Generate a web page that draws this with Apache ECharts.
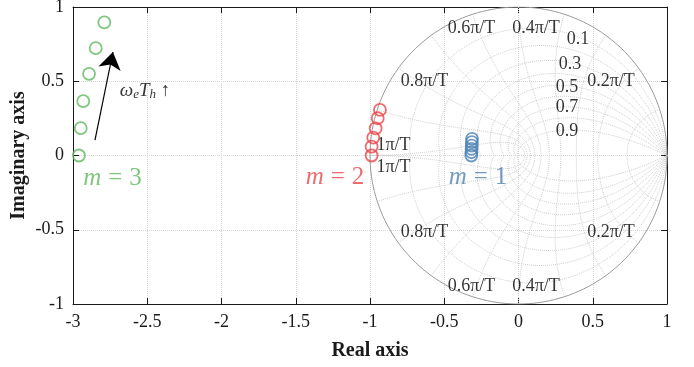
<!DOCTYPE html>
<html>
<head>
<meta charset="utf-8">
<script src="https://cdn.jsdelivr.net/npm/echarts@6/dist/echarts.min.js"></script>
<style>html,body{margin:0;padding:0;background:#fff}#main{width:694px;height:367px}</style>
</head>
<body>
<div id="main"></div>
<script>
// poles for each m (real part / imaginary part)
var m3Re = [-2.960, -2.948, -2.931, -2.892, -2.847, -2.789];
var m3Im = [0, 0.184, 0.366, 0.550, 0.723, 0.896];
var m2Re = [-0.989, -0.989, -0.978, -0.962, -0.948, -0.933];
var m2Im = [0, 0.060, 0.120, 0.183, 0.251, 0.307];
var m1Re = [-0.318, -0.317, -0.316, -0.315, -0.314, -0.313];
var m1Im = [0, 0.022, 0.044, 0.066, 0.090, 0.112];

// zgrid: damping ratios and natural frequencies (x pi/T)
var zetaList = [0.1, 0.2, 0.3, 0.4, 0.5, 0.6, 0.7, 0.8, 0.9];
var wnList = [0.1, 0.2, 0.3, 0.4, 0.5, 0.6, 0.7, 0.8, 0.9, 1];

// grid annotation texts and where they sit
var gridNotes = [
    ['0.6π/T', -0.316, 0.859], ['0.4π/T', 0.118, 0.859],
    ['0.8π/T', -0.633, 0.502], ['0.2π/T', 0.623, 0.502],
    ['1π/T', -0.842, 0.071], ['1π/T', -0.842, -0.077],
    ['0.8π/T', -0.633, -0.515], ['0.2π/T', 0.623, -0.515],
    ['0.6π/T', -0.316, -0.879], ['0.4π/T', 0.118, -0.879],
    ['0.1', 0.401, 0.785], ['0.3', 0.347, 0.616], ['0.5', 0.327, 0.461],
    ['0.7', 0.327, 0.327], ['0.9', 0.327, 0.165]
];

var serif = 'Liberation Serif';
var ink = '#1a1a1a';
var green = '#5fb95f', red = '#e8464a', blue = '#4d82b3';

function pairs(re, im) {
    var out = [];
    for (var i = 0; i < re.length; i++) out.push([re[i], im[i]]);
    return out;
}

function curve(pts) {
    return {
        type: 'line', data: pts, showSymbol: false, silent: true,
        lineStyle: { color: '#cdcdcd', width: 1, type: 'dotted' }, z: 1
    };
}

var series = [];

// damping lines
zetaList.forEach(function (z) {
    var k = z / Math.sqrt(1 - z * z);
    var up = [], dn = [];
    for (var j = 0; j <= 60; j++) {
        var th = Math.PI * j / 60;
        var r = Math.exp(-k * th);
        up.push([r * Math.cos(th), r * Math.sin(th)]);
        dn.push([r * Math.cos(th), -r * Math.sin(th)]);
    }
    series.push(curve(up), curve(dn));
});

// natural frequency lines
wnList.forEach(function (w) {
    var up = [], dn = [];
    for (var j = 0; j <= 40; j++) {
        var th = Math.PI / 2 + Math.PI / 2 * j / 40;
        var a = w * Math.PI * Math.cos(th), b = w * Math.PI * Math.sin(th);
        var r = Math.exp(a);
        up.push([r * Math.cos(b), r * Math.sin(b)]);
        dn.push([r * Math.cos(b), -r * Math.sin(b)]);
    }
    series.push(curve(up), curve(dn));
});

// unit circle
var circ = [];
for (var j = 0; j <= 180; j++) {
    circ.push([Math.cos(2 * Math.PI * j / 180), Math.sin(2 * Math.PI * j / 180)]);
}
series.push({
    type: 'line', data: circ, showSymbol: false, silent: true,
    lineStyle: { color: '#9a9a9a', width: 1 }, z: 2
});

// grid labels
series.push({
    type: 'scatter', symbolSize: 0, silent: true, z: 5,
    data: gridNotes.map(function (n) { return { name: n[0], value: [n[1], n[2]] }; }),
    label: {
        show: true, position: 'inside', formatter: '{b}',
        fontFamily: serif, fontSize: 18, color: '#000'
    }
});

function poles(pts, col) {
    return {
        type: 'scatter', data: pts, symbol: 'circle', symbolSize: 12, z: 6,
        itemStyle: { color: 'rgba(0,0,0,0)', borderColor: col, borderWidth: 1.8 }
    };
}
series.push(poles(pairs(m3Re, m3Im), green));
series.push(poles(pairs(m2Re, m2Im), red));
series.push(poles(pairs(m1Re, m1Im), blue));

// m labels
function mLabel(txt, x, y, col) {
    return {
        type: 'scatter', symbolSize: 0, silent: true, z: 7,
        data: [{ value: [x, y] }],
        label: {
            show: true, position: 'inside',
            formatter: '{i|m}{e|=}{n|' + txt + '}',
            rich: {
                i: { fontFamily: serif, fontStyle: 'italic', fontSize: 25, color: col },
                e: { fontFamily: serif, fontSize: 25, color: col, padding: [0, 7] },
                n: { fontFamily: serif, fontSize: 25, color: col }
            }
        }
    };
}
series.push(mLabel('3', -2.734, -0.152, green));
series.push(mLabel('2', -1.236, -0.145, red));
series.push(mLabel('1', -0.273, -0.145, blue));

// arrow + omega label
series.push({
    type: 'lines', coordinateSystem: 'cartesian2d', silent: true, z: 7,
    symbol: ['none', 'arrow'], symbolSize: 17,
    lineStyle: { color: '#000', width: 1.2, opacity: 1 },
    data: [{ coords: [[-2.852, 0.104], [-2.731, 0.697]] }]
});
series.push({
    type: 'scatter', symbolSize: 0, silent: true, z: 7,
    data: [{ value: [-2.515, 0.434] }],
    label: {
        show: true, position: 'inside',
        formatter: '{i|ω}{s|e}{i|T}{s|h}{u| ↑}',
        rich: {
            i: { fontFamily: serif, fontStyle: 'italic', fontSize: 19, color: '#000' },
            s: { fontFamily: serif, fontStyle: 'italic', fontSize: 13, color: '#000', padding: [8, 0, 0, 0] },
            u: { fontFamily: serif, fontSize: 19, color: '#000' }
        }
    }
});

var myChart = echarts.init(document.getElementById('main'));
myChart.setOption({
    animation: false,
    grid: { left: 73, right: 27, top: 7, bottom: 63, containLabel: false, outerBoundsMode: 'none' },
    xAxis: [{
        type: 'value', min: -3, max: 1, interval: 0.5, position: 'bottom',
        name: 'Real axis', nameLocation: 'middle', nameGap: 37,
        nameTextStyle: { fontFamily: serif, fontWeight: 'bold', fontSize: 20, color: ink },
        axisLine: { show: true, onZero: false, lineStyle: { color: ink } },
        axisTick: { show: true, inside: true, length: 6, lineStyle: { color: ink } },
        axisLabel: { fontFamily: serif, fontSize: 18, color: ink, margin: 9 },
        splitLine: { show: true, lineStyle: { type: 'dotted', color: '#d4d4d4' } }
    }, {
        type: 'value', min: -3, max: 1, interval: 0.5, position: 'top',
        axisLine: { show: true, onZero: false, lineStyle: { color: ink } },
        axisTick: { show: true, inside: true, length: 6, lineStyle: { color: ink } },
        axisLabel: { show: false }, splitLine: { show: false }
    }],
    yAxis: [{
        type: 'value', min: -1, max: 1, interval: 0.5, position: 'left',
        name: 'Imaginary axis', nameLocation: 'middle', nameGap: 44, nameMoveOverlap: false,
        nameTextStyle: { fontFamily: serif, fontWeight: 'bold', fontSize: 20, color: ink },
        axisLine: { show: true, onZero: false, lineStyle: { color: ink } },
        axisTick: { show: true, inside: true, length: 6, lineStyle: { color: ink } },
        axisLabel: { fontFamily: serif, fontSize: 18, color: ink, margin: 9 },
        splitLine: { show: true, lineStyle: { type: 'dotted', color: '#d4d4d4' } }
    }, {
        type: 'value', min: -1, max: 1, interval: 0.5, position: 'right',
        axisLine: { show: true, onZero: false, lineStyle: { color: ink } },
        axisTick: { show: true, inside: true, length: 6, lineStyle: { color: ink } },
        axisLabel: { show: false }, splitLine: { show: false }
    }],
    series: series
});
</script>
</body>
</html>
